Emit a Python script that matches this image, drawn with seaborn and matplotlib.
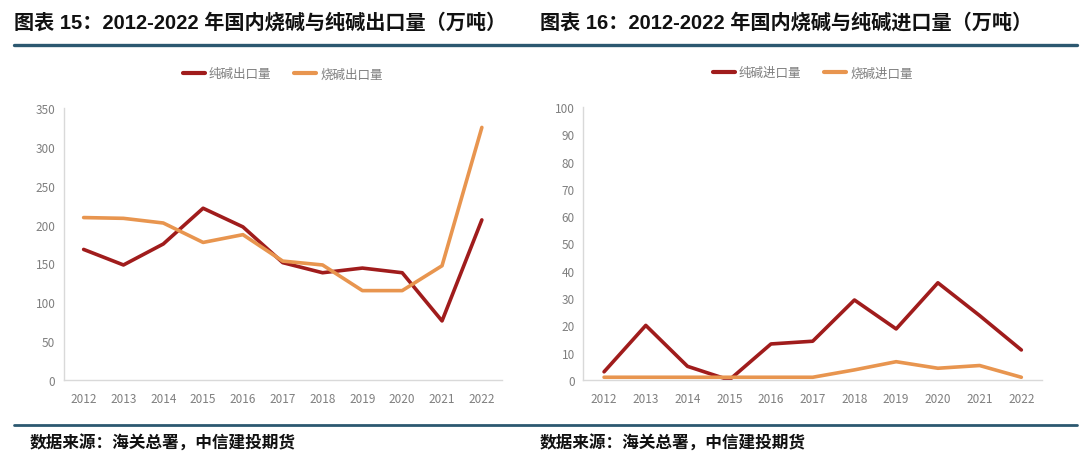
import matplotlib
matplotlib.use("Agg")
import matplotlib.pyplot as plt
import seaborn as sns
import pandas as pd
from matplotlib.lines import Line2D

years = ["2012", "2013", "2014", "2015", "2016", "2017", "2018", "2019", "2020", "2021", "2022"]
soda_export = [168, 148, 175, 221, 197, 151, 138, 144, 138, 76, 206]
caustic_export = [209, 208, 202, 177, 187, 153, 148, 115, 115, 147, 325]
soda_import = [3, 20, 5, 0, 13.2, 14.2, 29.3, 18.7, 35.6, 23.6, 11]
caustic_import = [1, 1, 1, 1, 1, 1, 3.7, 6.7, 4.3, 5.3, 1]

title_left = "图表 15：2012-2022 年国内烧碱与纯碱出口量（万吨）"
title_right = "图表 16：2012-2022 年国内烧碱与纯碱进口量（万吨）"
source = "数据来源：海关总署，中信建投期货"

sns.set_style("white")
plt.rcParams['font.family'] = ['Noto Sans CJK SC', 'DejaVu Sans']

DARK = "#A01C1C"
ORANGE = "#E8954F"
GRID_GREY = "#D9D9D9"
TICK_GREY = "#7F7F7F"
RULE = "#2C5870"

fig = plt.figure(figsize=(10.8, 4.56), dpi=100)

def make_panel(rect, s1, s2, n1, n2, ymax, ystep):
    ax = fig.add_axes(rect)
    df = pd.DataFrame({
        "year": years * 2,
        "value": s1 + s2,
        "series": [n1] * len(years) + [n2] * len(years),
    })
    sns.lineplot(data=df, x="year", y="value", hue="series",
                 palette={n1: DARK, n2: ORANGE}, linewidth=2.6,
                 ax=ax, legend=False, sort=False)
    ax.set_xlim(-0.5, len(years) - 0.5)
    ax.set_ylim(0, ymax)
    ax.set_yticks(range(0, ymax + 1, ystep))
    ax.set_xlabel("")
    ax.set_ylabel("")
    for s in ["top", "right"]:
        ax.spines[s].set_visible(False)
    for s in ["left", "bottom"]:
        ax.spines[s].set_color(GRID_GREY)
        ax.spines[s].set_linewidth(1.0)
    ax.tick_params(axis="both", length=0, labelsize=8.5, labelcolor=TICK_GREY, pad=6)
    ax.tick_params(axis="x", pad=9)
    handles = [Line2D([0], [0], color=DARK, lw=3), Line2D([0], [0], color=ORANGE, lw=3)]
    leg = ax.legend(handles, [n1, n2], loc="lower center", bbox_to_anchor=(0.5, 1.06),
                    ncol=2, frameon=False, fontsize=9, handlelength=1.8,
                    handletextpad=0.3, columnspacing=1.8)
    for t in leg.get_texts():
        t.set_color("#7F7F7F")
    return ax

make_panel([0.059, 0.1645, 0.4056, 0.5965], soda_export, caustic_export,
           "纯碱出口量", "烧碱出口量", 350, 50)
make_panel([0.540, 0.1645, 0.425, 0.5987], soda_import, caustic_import,
           "纯碱进口量", "烧碱进口量", 100, 10)

title_family = ['Liberation Sans', 'Noto Sans CJK SC']
fig.text(14 / 1080, 1 - 23 / 456, title_left, fontsize=14.5, fontweight="bold",
         ha="left", va="center", color="#111111", family=title_family)
fig.text(540 / 1080, 1 - 23 / 456, title_right, fontsize=14.5, fontweight="bold",
         ha="left", va="center", color="#111111", family=title_family)

fig.add_artist(Line2D([14 / 1080, 1077 / 1080], [1 - 46 / 456, 1 - 46 / 456],
                      color=RULE, lw=2.4, transform=fig.transFigure))
fig.add_artist(Line2D([14 / 1080, 1077 / 1080], [1 - 426 / 456, 1 - 426 / 456],
                      color=RULE, lw=2.0, transform=fig.transFigure))

fig.text(30 / 1080, 1 - 444 / 456, source, fontsize=12, fontweight="bold",
         style="italic", ha="left", va="center", color="#111111")
fig.text(540 / 1080, 1 - 444 / 456, source, fontsize=12, fontweight="bold",
         style="italic", ha="left", va="center", color="#111111")

fig.savefig("out.png", dpi=100)
